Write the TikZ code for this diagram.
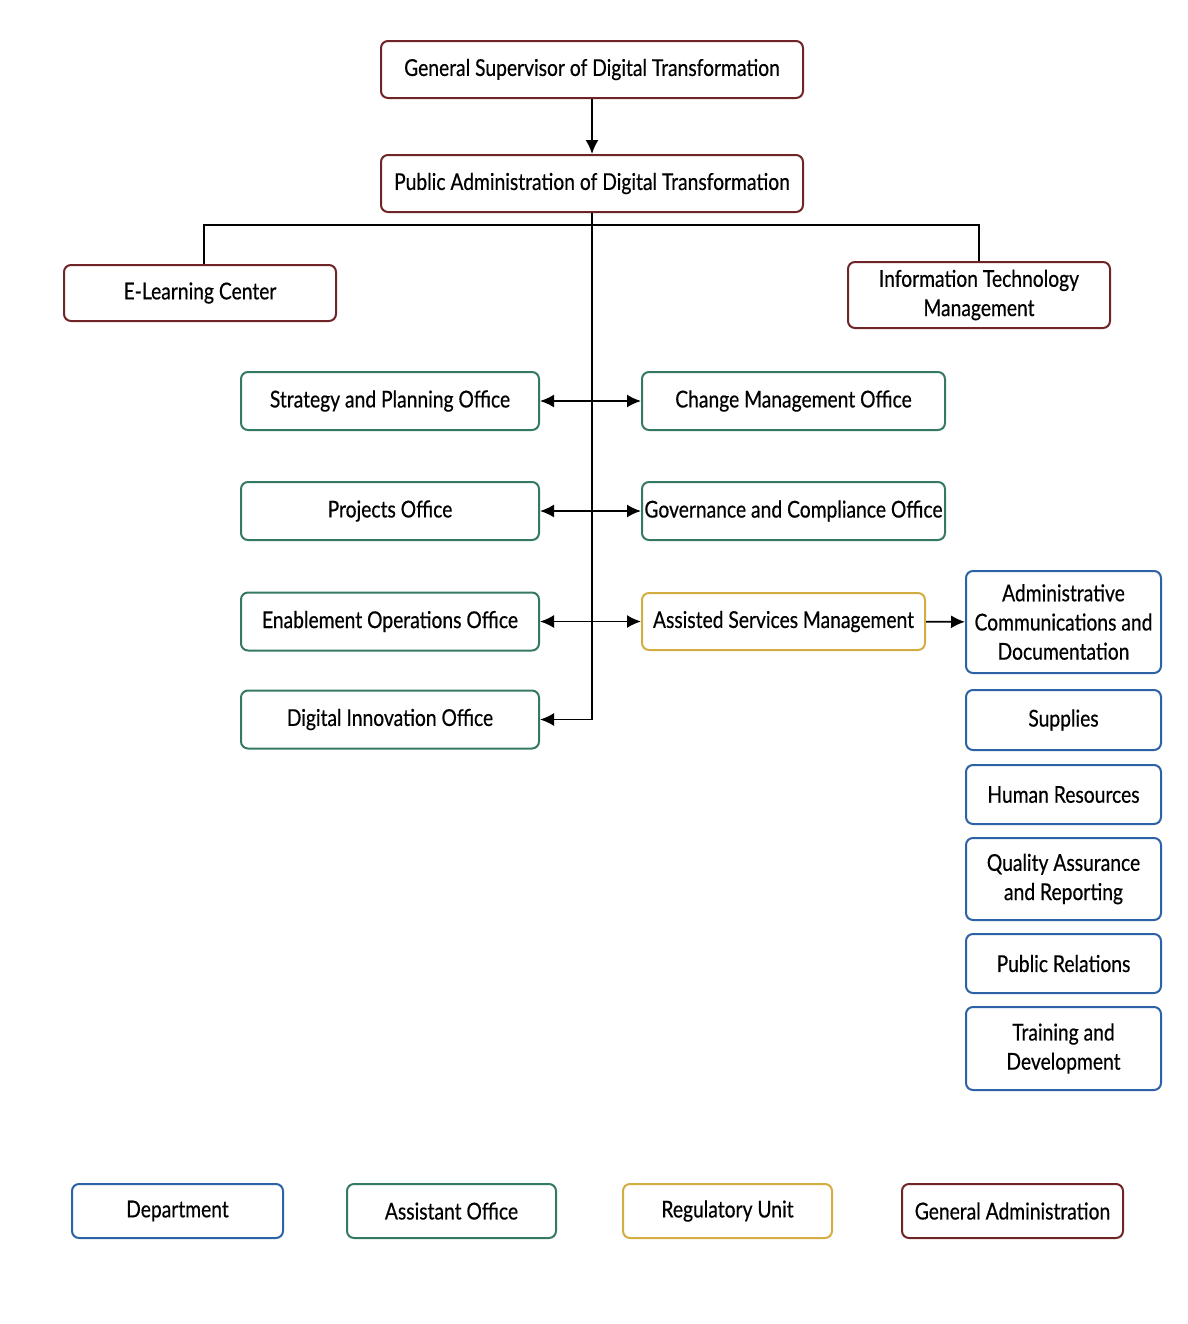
\documentclass[tikz,border=0pt]{standalone}
\usepackage{fontspec}
\setmainfont{Lato}[FakeStretch=0.83,FakeBold=0.45]
\usetikzlibrary{arrows.meta}

\definecolor{admred}{HTML}{6F2428}
\definecolor{offgreen}{HTML}{357A60}
\definecolor{unitgold}{HTML}{D4AD42}
\definecolor{deptblue}{HTML}{2E62A6}

\tikzset{
  box/.style={draw, line width=1pt, rounded corners=3.5pt, fill=white, align=center,
    inner sep=0pt, font=\fontsize{11.6}{14.6}\selectfont},
  genadmin/.style={box, draw=admred},
  assistoffice/.style={box, draw=offgreen},
  regunit/.style={box, draw=unitgold},
  dept/.style={box, draw=deptblue},
  link/.style={line width=0.9pt, black},
  arr/.style={link, -{Latex[length=7pt,width=6.5pt]}},
  dblarr/.style={link, {Latex[length=7pt,width=6.5pt]}-{Latex[length=7pt,width=6.5pt]}}
}

\begin{document}
\begin{tikzpicture}[x=0.5pt,y=-0.5pt]
\useasboundingbox (0,0) rectangle (1188,1324);

\node[genadmin, minimum width=211pt, minimum height=28.5pt] (gs) at (592,69.5) {General Supervisor of Digital Transformation};
\node[genadmin, minimum width=211pt, minimum height=28.5pt] (pa) at (592,183.5) {Public Administration of Digital Transformation};
\node[genadmin, minimum width=136pt, minimum height=28pt] (elc) at (200,293) {E-Learning Center};
\node[genadmin, minimum width=131pt, minimum height=33pt] (itm) at (979,295) {Information Technology\\Management};

\node[assistoffice, minimum width=149pt, minimum height=29pt] (spo) at (390,401) {Strategy and Planning Office};
\node[assistoffice, minimum width=151.5pt, minimum height=29pt] (cmo) at (793.5,401) {Change Management Office};
\node[assistoffice, minimum width=149pt, minimum height=29pt] (pro) at (390,511) {Projects Office};
\node[assistoffice, minimum width=151.5pt, minimum height=29pt] (gco) at (793.5,511) {Governance and Compliance Office};
\node[assistoffice, minimum width=149pt, minimum height=29pt] (eoo) at (390,621.5) {Enablement Operations Office};
\node[regunit, minimum width=141.5pt, minimum height=28.5pt] (asm) at (783.5,621.5) {Assisted Services Management};
\node[assistoffice, minimum width=149pt, minimum height=29pt] (dio) at (390,719.5) {Digital Innovation Office};

\node[dept, minimum width=97.5pt, minimum height=51pt] (acd) at (1063.5,622) {Administrative\\Communications and\\Documentation};
\node[dept, minimum width=97.5pt, minimum height=30pt] (sup) at (1063.5,720) {Supplies};
\node[dept, minimum width=97.5pt, minimum height=29.5pt] (hr) at (1063.5,794.5) {Human Resources};
\node[dept, minimum width=97.5pt, minimum height=41pt] (qar) at (1063.5,879) {Quality Assurance\\and Reporting};
\node[dept, minimum width=97.5pt, minimum height=29.5pt] (pr) at (1063.5,963.5) {Public Relations};
\node[dept, minimum width=97.5pt, minimum height=41.5pt] (td) at (1063.5,1048.5) {Training and\\Development};

\node[dept, minimum width=105.5pt, minimum height=27pt] (lgdept) at (177.5,1211) {Department};
\node[assistoffice, minimum width=104.5pt, minimum height=27pt] (lgoff) at (451.5,1211) {Assistant Office};
\node[regunit, minimum width=104.5pt, minimum height=27pt] (lgunit) at (727.5,1211) {Regulatory Unit};
\node[genadmin, minimum width=110.5pt, minimum height=27pt] (lgadm) at (1012.5,1211) {General Administration};

\coordinate (bar) at (592,225);
\draw[arr] (gs) -- (pa);
\draw[link] (elc.north) ++(4,0) |- (bar) -| (itm.north);
\draw[arr] (pa) |- (dio.east);
\draw[dblarr] (spo) -- (cmo);
\draw[dblarr] (pro) -- (gco);
\draw[dblarr] (eoo) -- (asm);
\draw[arr] (asm) -- (acd);
\end{tikzpicture}
\end{document}
